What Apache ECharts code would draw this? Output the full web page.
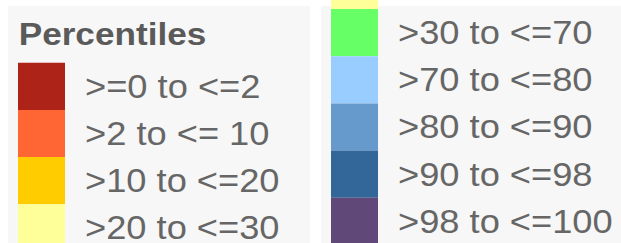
<!DOCTYPE html>
<html>
<head>
<meta charset="utf-8">
<script src="https://cdn.jsdelivr.net/npm/echarts@6/dist/echarts.min.js"></script>
<style>
  html, body { margin: 0; padding: 0; background: #fff; overflow: hidden; }
  /* the source legend is stretched ~10% horizontally */
  #legend { width: 565px; height: 243px; transform: scaleX(1.0991); transform-origin: 0 0; }
</style>
</head>
<body>
<div id="legend"></div>
<script>
// percentile classes, top to bottom
const classLabels = ['>=0 to <=2', '>2 to <= 10', '>10 to <=20', '>20 to <=30',
    '>30 to <=70', '>70 to <=80', '>80 to <=90', '>90 to <=98', '>98 to <=100'];
const classColors = ['#ae2318', '#ff6633', '#ffcc00', '#ffff99',
    '#66ff66', '#99ccff', '#6699cc', '#336699', '#604878'];
const swatchValue = [1, 1, 1, 1, 1, 1, 1, 1, 1];

// left column shows first four, right column continues from the 4th (scrolled,
// only the bottom edge of that swatch is visible, so its label is left out)
const leftIdx = [0, 1, 2, 3];
const rightIdx = [3, 4, 5, 6, 7, 8];

const sx = 1.0991;
const font = 'Liberation Sans, Arial, sans-serif';
const rowH = 47.2;

function column(idx, gi, top, left, skipFirstLabel) {
    return {
        grid: { left: left / sx, top: top, width: 47 / sx, height: rowH * idx.length, outerBoundsMode: 'none' },
        xAxis: { type: 'value', gridIndex: gi, min: 0, max: 1, show: false },
        yAxis: {
            type: 'category', gridIndex: gi, inverse: true, position: 'right',
            data: idx.map(i => classLabels[i]),
            axisLine: { show: false }, axisTick: { show: false }, splitLine: { show: false },
            axisLabel: {
                interval: 0, hideOverlap: false, align: 'left', margin: 20 / sx,
                fontSize: 33, color: '#666', fontFamily: font,
                formatter: (v, i) => (skipFirstLabel && i === 0) ? '' : v
            }
        },
        series: {
            type: 'bar', xAxisIndex: gi, yAxisIndex: gi,
            barWidth: '100%', silent: true,
            data: idx.map(i => ({ value: swatchValue[i], itemStyle: { color: classColors[i] } }))
        }
    };
}

const colL = column(leftIdx, 0, 62.7, 18, false);
const colR = column(rightIdx, 1, 9 - rowH, 331, true);

const chart = echarts.init(document.getElementById('legend'), null, { renderer: 'svg' });
chart.setOption({
    animation: false,
    title: {
        text: 'Percentiles', left: 17, top: 18, padding: 0,
        textStyle: { fontSize: 32, fontWeight: 'bold', color: '#5a5a5a', fontFamily: font }
    },
    graphic: [
        { type: 'rect', z: -10, shape: { x: 8 / sx, y: 6, width: 302 / sx, height: 240 }, style: { fill: '#f7f7f7' } },
        { type: 'rect', z: -10, shape: { x: 321 / sx, y: 6, width: 300 / sx, height: 240 }, style: { fill: '#f7f7f7' } }
    ],
    grid: [colL.grid, colR.grid],
    xAxis: [colL.xAxis, colR.xAxis],
    yAxis: [colL.yAxis, colR.yAxis],
    series: [colL.series, colR.series]
});
</script>
</body>
</html>
